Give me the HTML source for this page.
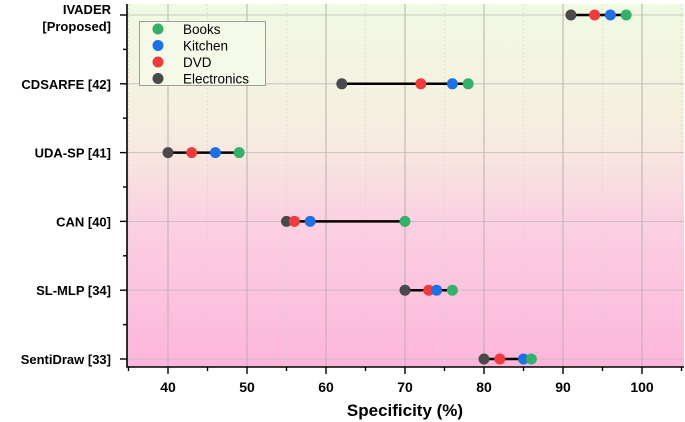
<!DOCTYPE html>
<html><head><meta charset="utf-8"><style>
body{margin:0;background:#fff;font-family:"Liberation Sans",Arial,sans-serif}
svg{display:block}
</style></head><body>
<svg id="chart" width="685" height="422">
<defs><linearGradient id="bg" x1="0" y1="0" x2="0" y2="1">
<stop offset="0" stop-color="#f0f9e2"/><stop offset="0.35" stop-color="#f6eee0"/><stop offset="0.6" stop-color="#fbd0e2"/><stop offset="1" stop-color="#fdb6db"/></linearGradient></defs>
</svg>
<script>
const methods=["IVADER\n[Proposed]","CDSARFE [42]","UDA-SP [41]","CAN [40]","SL-MLP [34]","SentiDraw [33]"];
const electronics=[91,62,40,55,70,80];
const dvd=[94,72,43,56,73,82];
const kitchen=[96,76,46,58,74,85];
const books=[98,78,49,70,76,86];
const xTicks=[40,50,60,70,80,90,100];
const seriesNames=["Books","Kitchen","DVD","Electronics"];
const seriesColors=["#35b06b","#1f6fe5","#ef3b3b","#4a4a4a"];
const svg=document.getElementById('chart');const NS="http://www.w3.org/2000/svg";
function mk(t,a,p){const e=document.createElementNS(NS,t);for(const k in a)e.setAttribute(k,a[k]);(p||svg).appendChild(e);return e;}
const L=127,R=684,T=4,B=367;
const x=v=>168+(v-40)*7.9;
const y=i=>15+i*68.8;
let r=mk('rect',{x:L,y:T,width:R-L,height:B-T,fill:'url(#bg)'});

for(let v=35;v<=105;v+=5){const g=mk('line',{x1:x(v),x2:x(v),y1:T,y2:B,stroke:v%10?'#d8d0d0':'#b8b0b0','stroke-width':v%10?0.6:1,'stroke-dasharray':v%10?'2,2':''});
}
methods.forEach((m,i)=>{const g=mk('line',{x1:L,x2:R,y1:y(i),y2:y(i),stroke:'#c0b8b8','stroke-width':0.8});
});
const ax=mk('path',{d:`M${L},${T}V${B}H${R}`,stroke:'#000','stroke-width':1.6,fill:'none'});

for(let v=35;v<=105;v+=5){mk('line',{x1:x(v),x2:x(v),y1:B,y2:B+(v%10?4:7),stroke:'#000','stroke-width':1.4});}
xTicks.forEach(v=>{const t=mk('text',{x:x(v),y:B+25,'text-anchor':'middle','font-size':14,'font-weight':'bold'});t.textContent=v;
});
methods.forEach((m,i)=>{mk('line',{x1:L-7,x2:L,y1:y(i),y2:y(i),stroke:'#000','stroke-width':1.4});
if(i<methods.length-1)mk('line',{x1:L-4,x2:L,y1:y(i)+34.4,y2:y(i)+34.4,stroke:'#000','stroke-width':1.4});
const lines=m.split('\n');
const t=mk('text',{x:L-16,y:lines.length>1?y(i)-1:y(i)+5,'text-anchor':'end','font-size':13,'font-weight':'bold'});

lines.forEach((s,k)=>{const ts=mk('tspan',{x:L-16,dy:k?17:0},t);ts.textContent=s;});});
const series=[books,kitchen,dvd,electronics];
methods.forEach((m,i)=>{const vals=series.map(s=>s[i]);
const ln=mk('line',{x1:x(Math.min(...vals)),x2:x(Math.max(...vals)),y1:y(i),y2:y(i),stroke:'#000','stroke-width':2.5});

[3,2,1,0].forEach(k=>{const c=mk('circle',{cx:x(series[k][i]),cy:y(i),r:5.5,fill:seriesColors[k]});
});});
const lg=mk('g',{});
mk('rect',{x:139.5,y:21.5,width:126,height:64,fill:'#f4f9e8',stroke:'#888','stroke-width':0.8},lg);
seriesNames.forEach((n,k)=>{mk('circle',{cx:158,cy:29+k*16.5,r:5.5,fill:seriesColors[k]},lg);
const t=mk('text',{x:183,y:34+k*16.5,'font-size':13.5},lg);t.textContent=n;
});
const xt=mk('text',{x:405,y:416,'text-anchor':'middle','font-size':17,'font-weight':'bold'});xt.textContent='Specificity (%)';

</script>
</body></html>
